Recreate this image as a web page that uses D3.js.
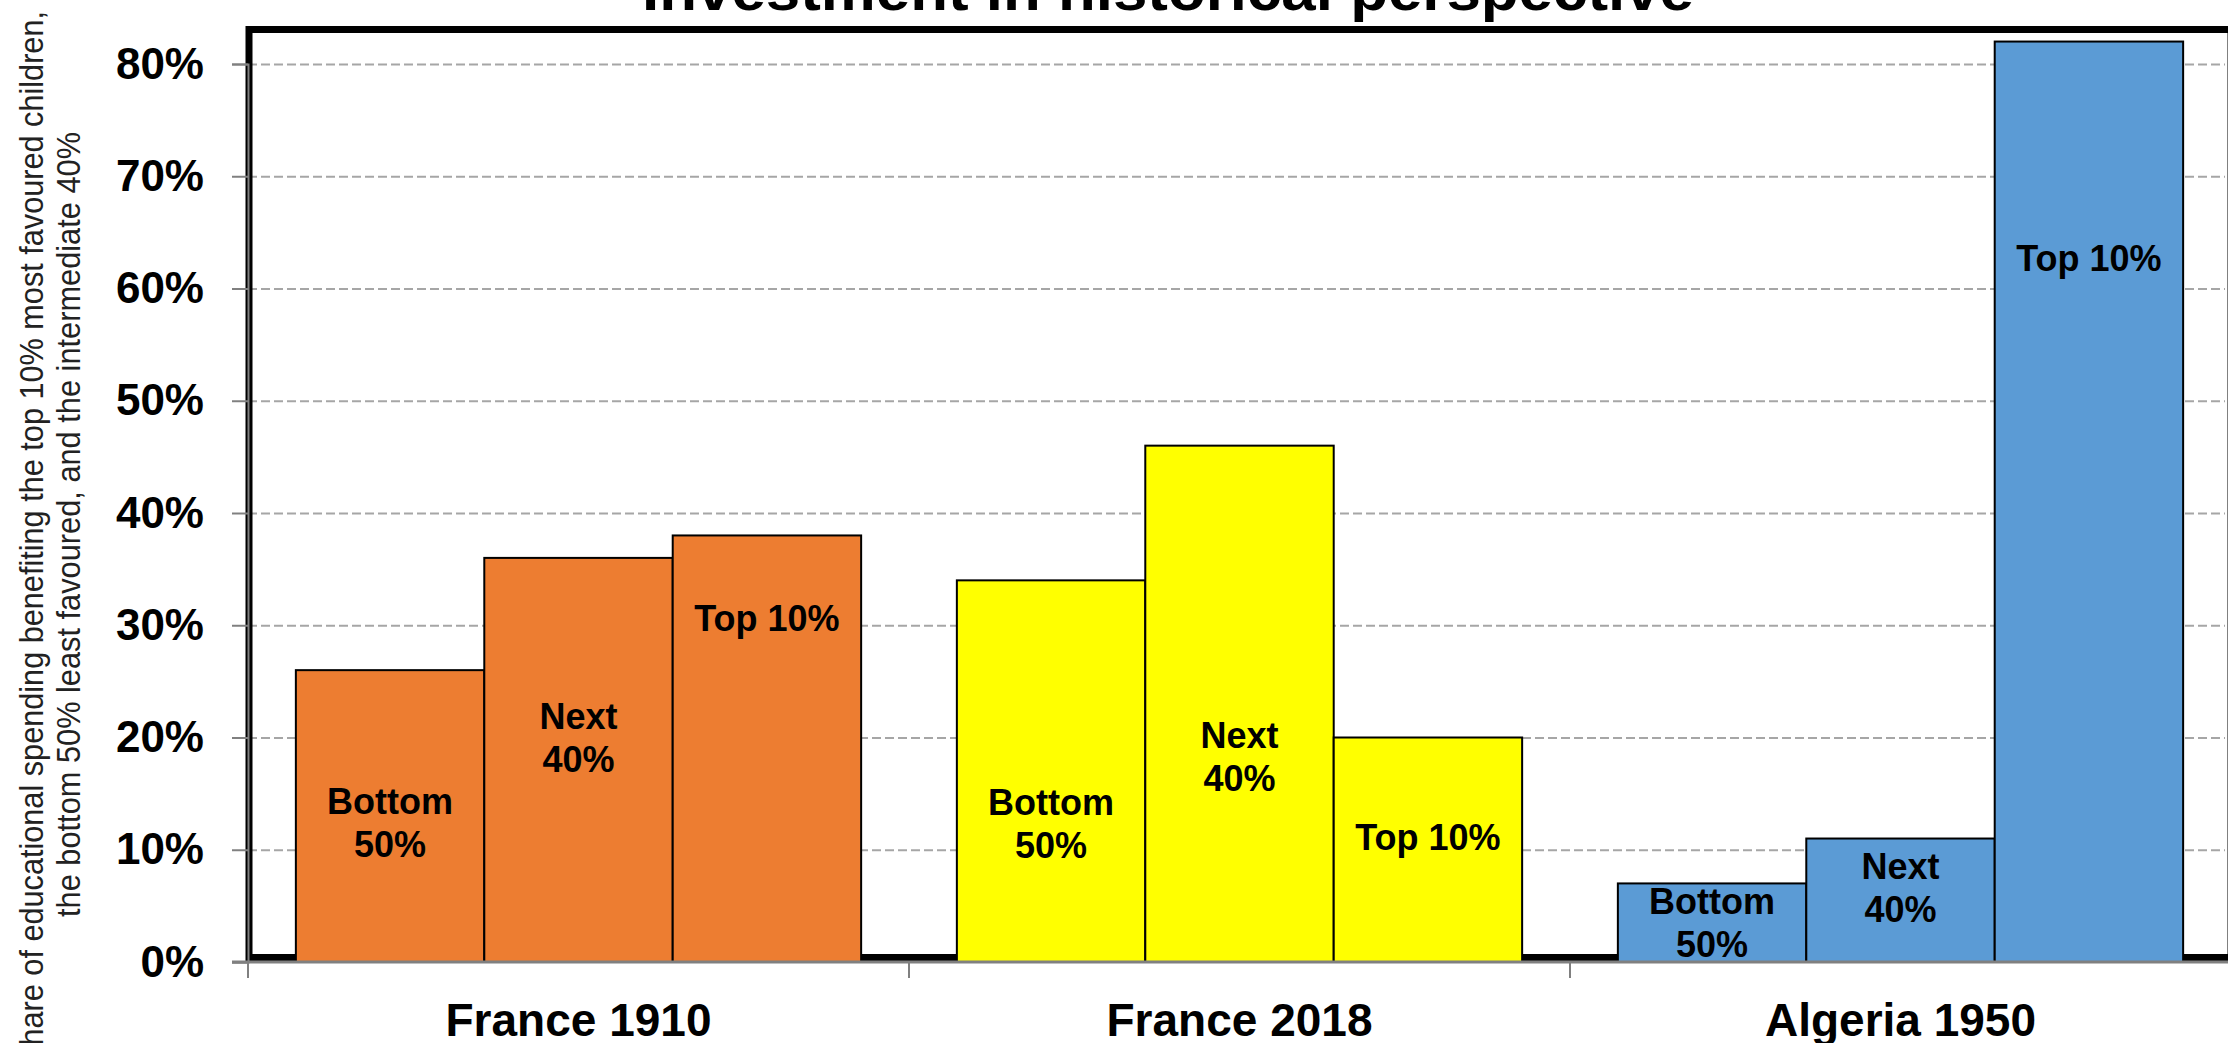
<!DOCTYPE html>
<html>
<head>
<meta charset="utf-8">
<script src="https://cdn.jsdelivr.net/npm/d3@7"></script>
<style>
  body { margin: 0; background: #fff; }
  svg { display: block; font-family: "Liberation Sans", Arial, sans-serif; }
</style>
</head>
<body>
<svg id="chart"></svg>
<script>
const groups = ['France 1910', 'France 2018', 'Algeria 1950'];
const segments = ['Bottom 50%', 'Next 40%', 'Top 10%'];
const france1910 = [26, 36, 38];
const france2018 = [34, 46, 20];
const algeria1950 = [7, 11, 82];
const yTicks = [0, 10, 20, 30, 40, 50, 60, 70, 80];
// where the label block sits inside each bar (in % units)
const labelAt1910 = [12.4, 20, 30.6];
const labelAt2018 = [12.3, 18.3, 11.1];
const labelAt1950 = [3.5, 6.6, 62.7];
const colors = ['#ED7D31', '#FFFF00', '#5B9BD5'];
const labelLines = [['Bottom', '50%'], ['Next', '40%'], ['Top 10%']];

const values = [france1910, france2018, algeria1950];
const labelAt = [labelAt1910, labelAt2018, labelAt1950];

const width = 2228;
const height = 1043;
const svg = d3.select('#chart').attr('width', width).attr('height', height);

const x = d3.scaleBand().domain(groups).range([248, 2231]);
const xInner = d3.scaleBand().domain(segments).range([0, x.bandwidth()]).paddingOuter(0.254);
const y = d3.scaleLinear().domain([0, 80]).range([962, 64]);

// title (cut off by the top edge like the original)
svg.append('text')
  .attr('x', 1168).attr('y', 10)
  .attr('text-anchor', 'middle')
  .attr('font-size', 58).attr('font-weight', 'bold')
  .attr('textLength', 1052).attr('lengthAdjust', 'spacingAndGlyphs')
  .text('Investment in historical perspective');

// gridlines
svg.append('g')
  .attr('transform', 'translate(248,0)')
  .call(d3.axisLeft(y).tickValues(yTicks.slice(1)).tickSize(-1977).tickFormat(''))
  .call(g => g.select('.domain').remove())
  .call(g => g.selectAll('line').attr('stroke', '#a6a6a6').attr('stroke-width', 2).attr('stroke-dasharray', '9,4'));

// plot frame
svg.append('rect')
  .attr('x', 249).attr('y', 29.5)
  .attr('width', 1982).attr('height', 928)
  .attr('fill', 'none').attr('stroke', '#000').attr('stroke-width', 7);

// bars
const bars = svg.append('g');
groups.forEach((grp, gi) => {
  const gEl = bars.append('g').attr('transform', `translate(${x(grp)},0)`);
  gEl.selectAll('rect')
    .data(values[gi])
    .join('rect')
    .attr('x', (d, i) => xInner(segments[i]))
    .attr('y', d => y(d))
    .attr('width', xInner.bandwidth())
    .attr('height', d => y(0) - y(d))
    .attr('fill', colors[gi])
    .attr('stroke', '#000')
    .attr('stroke-width', 2);

  const lab = gEl.selectAll('text')
    .data(labelAt[gi])
    .join('text')
    .attr('x', (d, i) => xInner(segments[i]) + xInner.bandwidth() / 2)
    .attr('y', d => y(d))
    .attr('text-anchor', 'middle')
    .attr('font-size', 36).attr('font-weight', 'bold');
  lab.each(function (d, i) {
    const lines = labelLines[i];
    const t = d3.select(this);
    lines.forEach((ln, li) => {
      t.append('tspan')
        .attr('x', xInner(segments[i]) + xInner.bandwidth() / 2)
        .attr('dy', li === 0 ? (0.35 - (lines.length - 1) * 0.6) + 'em' : '1.2em')
        .text(ln);
    });
  });
});

// y axis
svg.append('g')
  .attr('transform', 'translate(248,0)')
  .call(d3.axisLeft(y).tickValues(yTicks).tickSize(16).tickPadding(28).tickFormat(d => d + '%'))
  .call(g => g.select('.domain').attr('stroke', '#808080').attr('stroke-width', 2))
  .call(g => g.selectAll('line').attr('stroke', '#808080').attr('stroke-width', 2))
  .call(g => g.selectAll('text').attr('font-size', 44).attr('font-weight', 'bold').attr('fill', '#000')
    .attr('font-family', '"Liberation Sans", Arial, sans-serif'));

// x axis line, boundary ticks, category labels
svg.append('line')
  .attr('x1', 232).attr('x2', width)
  .attr('y1', y(0)).attr('y2', y(0))
  .attr('stroke', '#808080').attr('stroke-width', 3);
svg.append('g')
  .selectAll('line')
  .data(groups)
  .join('line')
  .attr('x1', d => x(d)).attr('x2', d => x(d))
  .attr('y1', y(0)).attr('y2', y(0) + 16)
  .attr('stroke', '#808080').attr('stroke-width', 2);

svg.append('g')
  .attr('transform', `translate(0,${y(0)})`)
  .call(d3.axisBottom(x).tickSize(0).tickPadding(41))
  .call(g => g.select('.domain').remove())
  .call(g => g.selectAll('text').attr('font-size', 46).attr('font-weight', 'bold').attr('fill', '#000')
    .attr('font-family', '"Liberation Sans", Arial, sans-serif'));

// y axis title, two lines squeezed to the original's narrow face
const ytitle = [
  { text: 'Share of educational spending benefiting the top 10% most favoured children,', x: 31, end: 11, len: 1055 },
  { text: 'the bottom 50% least favoured, and the intermediate 40%', x: 68, end: 132, len: 785 }
];
svg.append('g')
  .selectAll('text')
  .data(ytitle)
  .join('text')
  .attr('transform', d => `translate(${d.x},${d.end}) rotate(-90)`)
  .attr('text-anchor', 'end')
  .attr('dominant-baseline', 'central')
  .attr('font-family', '"Liberation Sans Narrow", "Arial Narrow", "Liberation Sans", sans-serif')
  .attr('font-size', 33)
  .attr('fill', '#222')
  .attr('textLength', d => d.len)
  .attr('lengthAdjust', 'spacingAndGlyphs')
  .text(d => d.text);
</script>
</body>
</html>
